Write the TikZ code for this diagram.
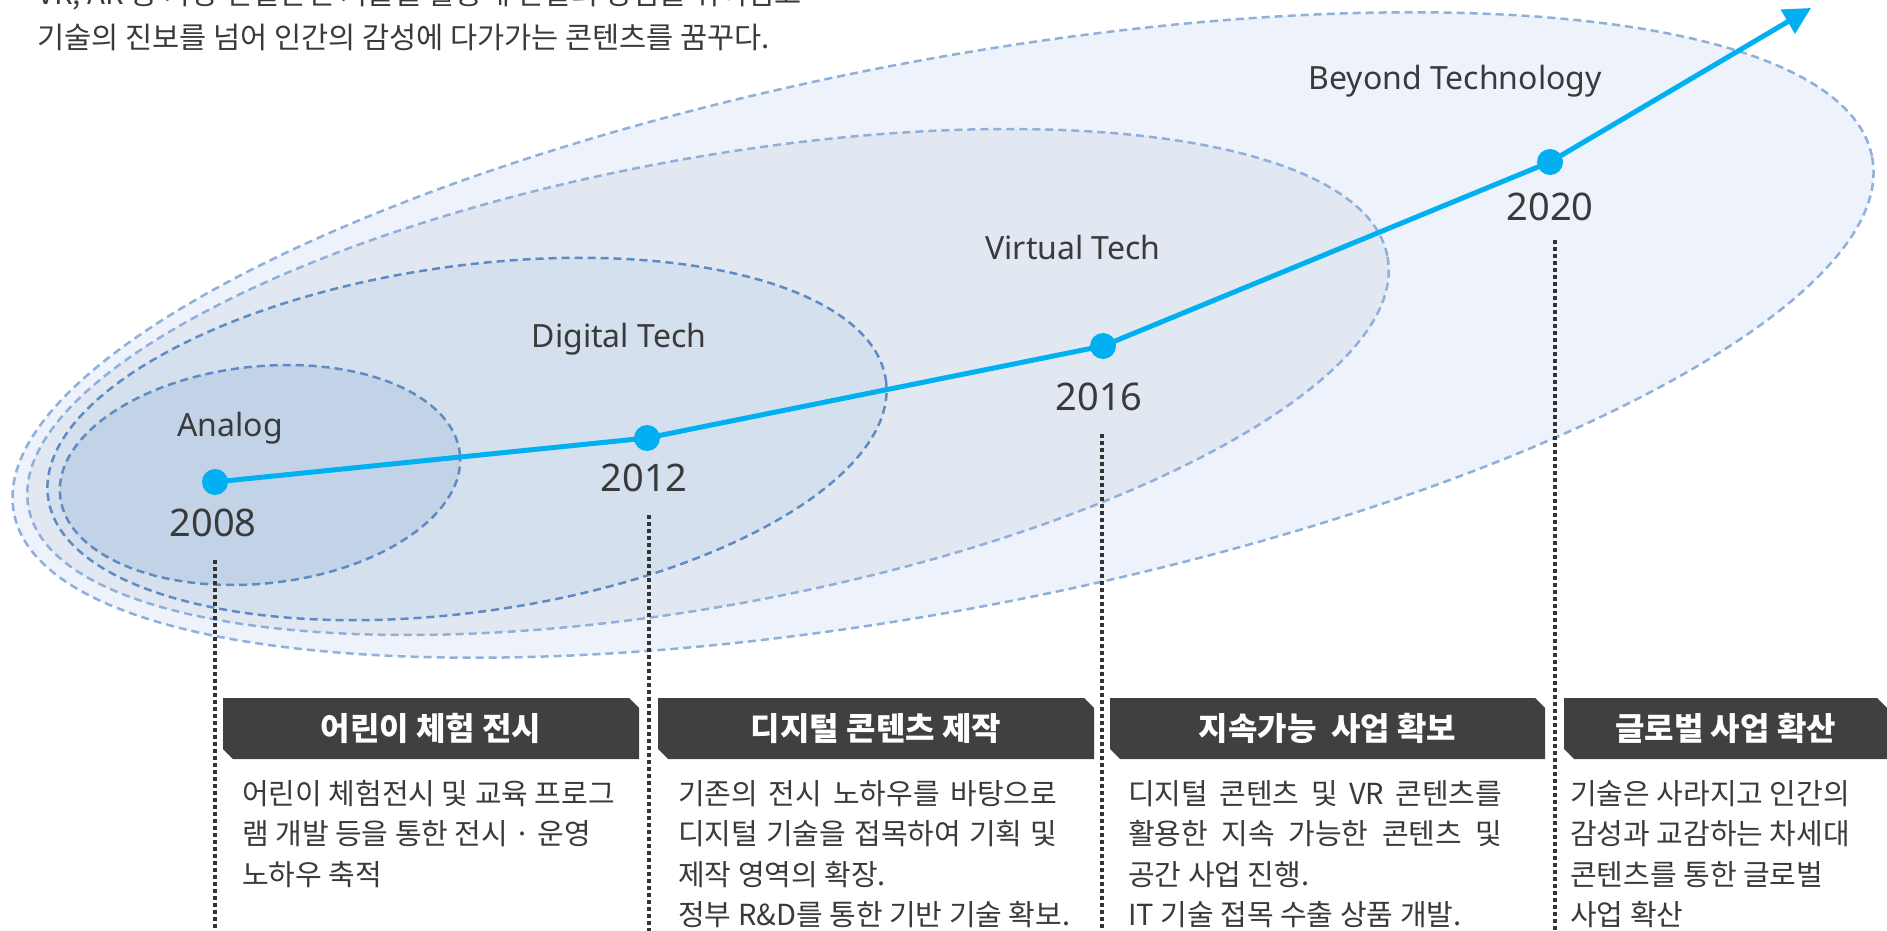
\documentclass[tikz,border=0pt]{standalone}
\usepackage{fontspec}
\setmainfont{Noto Sans CJK KR}
\newfontfamily\latf{Noto Sans}
\usetikzlibrary{arrows.meta}
\definecolor{fillA}{HTML}{C3D3E7}
\definecolor{fillD}{HTML}{D5E0EE}
\definecolor{fillV}{HTML}{E1E8F2}
\definecolor{fillB}{HTML}{EEF2FA}
\definecolor{edgeDark}{HTML}{5F8BC5}
\definecolor{edgeLight}{HTML}{8FB0DA}
\definecolor{cyanline}{HTML}{00B0F0}
\definecolor{txt}{HTML}{3A3A3A}
\definecolor{hdrgray}{HTML}{404040}
\definecolor{vline}{HTML}{333333}
\begin{document}
\begin{tikzpicture}[x=1pt,y=-1pt,
  era/.style={line width=2.5pt, dash pattern=on 8pt off 5pt},
  eralabel/.style={font=\latf\fontsize{32}{38}\selectfont, text=txt, inner sep=0pt},
  year/.style={font=\latf\fontsize{38}{44}\selectfont, text=txt, inner sep=0pt},
  dot/.style={circle, fill=cyanline, minimum size=26pt, inner sep=0pt},
  trend/.style={cyanline, line width=5pt, line join=round},
  guide/.style={vline, line width=4pt, dash pattern=on 4pt off 3pt},
  hdr/.style={text=white, font=\bfseries\fontsize{32}{36}\selectfont, inner sep=0pt},
  hdrbox/.style={fill=hdrgray},
  body/.style={text=txt, font=\fontsize{29}{40.5}\selectfont, align=left, anchor=north west, inner sep=0pt},
  intro/.style={text=txt, font=\fontsize{29.5}{40}\selectfont, anchor=west, inner sep=0pt}]

\useasboundingbox (0,0) rectangle (1887,931);
\fill[white] (0,0) rectangle (1887,931);

% era ellipses
\draw[era, edgeLight, fill=fillB, shift={(943,335)}, rotate=10.85] (0,0) ellipse [x radius=946, y radius=274];
\draw[era, edgeLight, fill=fillV, shift={(708,382)}, rotate=10.44] (0,0) ellipse [x radius=691, y radius=223.5];
\draw[era, edgeDark, fill=fillD, shift={(467,439)}, rotate=8.0] (0,0) ellipse [x radius=423, y radius=173];
\draw[era, edgeDark, fill=fillA, shift={(260,475)}, rotate=6.1] (0,0) ellipse [x radius=201, y radius=108.5];

% era labels
\node[eralabel] (lA) at (230,428) {Analog};
\node[eralabel] (lD) at (619,339) {Digital Tech};
\node[eralabel] (lV) at (1073,247) {Virtual Tech};
\node[eralabel] (lB) at (1455,81) {Beyond Technology};

% intro text
\node[intro] (t1) at (37,-5) {VR, AR 등 가상 현실관련 기술을 활용해 현실의 경험을 뛰어넘고};
\node[intro] (t2) at (37,37) {기술의 진보를 넘어 인간의 감성에 다가가는 콘텐츠를 꿈꾸다.};

% trend line
\coordinate (p2008) at (215,482);
\coordinate (p2012) at (647,438);
\coordinate (p2016) at (1103,346);
\coordinate (p2020) at (1550,162);
\coordinate (tip) at (1811,8);
\draw[trend] (p2008) -- (p2012) -- (p2016) -- (p2020);
\draw[trend, -{Triangle[length=27pt,width=27pt]}] (p2020) -- (tip);
\node[dot] (d2008) at (p2008) {};
\node[dot] (d2012) at (p2012) {};
\node[dot] (d2016) at (p2016) {};
\node[dot] (d2020) at (p2020) {};

% years
\node[year] (y2008) at (213,523) {2008};
\node[year] (y2012) at (644,478) {2012};
\node[year] (y2016) at (1099,397) {2016};
\node[year] (y2020) at (1550,207) {2020};

% guides
\coordinate (g1t) at (215,560);  \coordinate (g1b) at (215,935);
\coordinate (g2t) at (649,515);  \coordinate (g2b) at (649,935);
\coordinate (g3t) at (1102,434); \coordinate (g3b) at (1102,935);
\coordinate (g4t) at (1555,240); \coordinate (g4b) at (1555,935);
\draw[guide] (g1t) -- (g1b);
\draw[guide] (g2t) -- (g2b);
\draw[guide] (g3t) -- (g3b);
\draw[guide] (g4t) -- (g4b);

% header boxes
\fill[hdrbox] (223,698) -- (629,698) -- (639,708) -- (639,759) -- (233,759) -- (223,749) -- cycle;
\fill[hdrbox] (658,698) -- (1084,698) -- (1094,708) -- (1094,759) -- (668,759) -- (658,749) -- cycle;
\fill[hdrbox] (1110,698) -- (1535,698) -- (1545,708) -- (1545,759) -- (1120,759) -- (1110,749) -- cycle;
\fill[hdrbox] (1564,698) -- (1877,698) -- (1887,708) -- (1887,759) -- (1574,759) -- (1564,749) -- cycle;
\node[hdr] (h1) at (431,728.5) {어린이 체험 전시};
\node[hdr] (h2) at (876,728.5) {디지털 콘텐츠 제작};
\node[hdr] (h3) at (1327.5,728.5) {지속가능\ \ 사업 확보};
\node[hdr] (h4) at (1725.5,728.5) {글로벌 사업 확산};

% body texts
\node[body] (b1) at (242,780) {어린이 체험전시 및 교육 프로그\\램 개발 등을 통한 전시 · 운영\\노하우 축적};
\node[body] (b2) at (678,780) {\hbox to 379pt{기존의 전시 노하우를 바탕으로}\\\hbox to 379pt{디지털 기술을 접목하여 기획 및}\\제작 영역의 확장.\\정부 R\&D를 통한 기반 기술 확보.};
\node[body] (b3) at (1128,780) {\hbox to 374pt{디지털 콘텐츠 및 VR 콘텐츠를}\\\hbox to 374pt{활용한 지속 가능한 콘텐츠 및}\\공간 사업 진행.\\IT 기술 접목 수출 상품 개발.};
\node[body] (b4) at (1570,780) {기술은 사라지고 인간의\\감성과 교감하는 차세대\\콘텐츠를 통한 글로벌\\사업 확산};
\end{tikzpicture}
\end{document}
